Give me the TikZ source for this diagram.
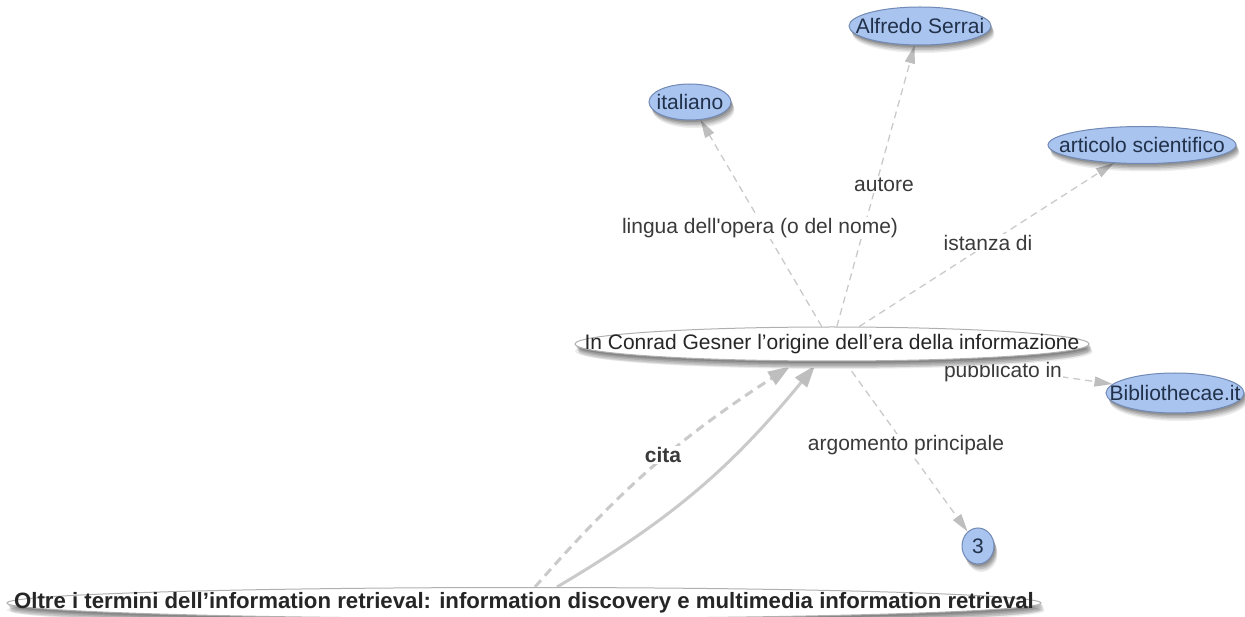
\documentclass[tikz,border=0pt]{standalone}
\usepackage{fontspec}
\setmainfont{Liberation Sans}[Ligatures=TeXOff]
\usetikzlibrary{shapes.geometric,arrows.meta,shadows,calc}
\pgfdeclarelayer{bg}
\pgfsetlayers{bg,main}
\definecolor{nodeblue}{HTML}{A8C4EF}
\definecolor{nodeborder}{HTML}{7189B4}
\definecolor{nodetext}{HTML}{22314A}
\definecolor{edgegray}{HTML}{CACACA}
\definecolor{tipgray}{HTML}{BEBEBE}
\definecolor{labeltext}{HTML}{3A3A3A}
\definecolor{whiteborder}{HTML}{B0B0B0}
\begin{document}
\begin{tikzpicture}[x=1pt,y=-1pt,
  font=\fontsize{21}{25}\selectfont,
  ell/.style 2 args={ellipse, minimum width=#1, minimum height=#2,
    inner xsep=-600pt, inner ysep=-60pt},
  softshadow/.style={
    general shadow={shadow xshift=1pt, shadow yshift=-2pt, fill=black, opacity=0.13},
    general shadow={shadow xshift=2pt, shadow yshift=-3.5pt, fill=black, opacity=0.12},
    general shadow={shadow xshift=2.5pt, shadow yshift=-5pt, fill=black, opacity=0.11},
    general shadow={shadow xshift=3pt, shadow yshift=-6.5pt, fill=black, opacity=0.09},
    general shadow={shadow xshift=3.5pt, shadow yshift=-8pt, fill=black, opacity=0.07}},
  bluenode/.style={draw=nodeborder, line width=1pt, fill=nodeblue, text=nodetext, softshadow},
  whitenode/.style={draw=whiteborder, line width=1pt, fill=white, text=black!85,
    general shadow={shadow xshift=0pt, shadow yshift=-7pt, fill=black!8},
    softshadow},
  lbl/.style={fill=white, inner sep=1pt, text=labeltext},
  thinedge/.style={draw=edgegray, line width=1.3pt, dash pattern=on 7pt off 5pt,
    -{Triangle[length=18pt,width=10pt,color=tipgray]}},
  citaedge/.style={draw=edgegray, line width=3pt,
    -{Triangle[length=22pt,width=15pt,color=tipgray]}}
]
\begin{pgfonlayer}{bg}
\fill[white] (0,0) rectangle (1245,617);
\end{pgfonlayer}
\useasboundingbox (0,0) rectangle (1245,617);

% nodes
\node[bluenode, ell={82}{36}] (italiano) at (690,102) {italiano};
\node[bluenode, ell={142}{38}] (serrai) at (920,26) {Alfredo Serrai};
\node[bluenode, ell={188}{37}] (articolo) at (1142,145) {articolo scientifico};
\node[whitenode, ell={514}{34}] (central) at (832,344) {In Conrad Gesner l’origine dell’era della informazione};
\node[bluenode, ell={138}{40}] (biblio) at (1175,393) {Bibliothecae.it};
\node[bluenode, ell={32}{36}] (three) at (978,546) {3};
\node[whitenode, ell={1034}{31}, font=\fontsize{22.2}{26}\selectfont\bfseries] (oltre) at (524,603)
  {Oltre i termini dell’information retrieval: information discovery e multimedia information retrieval};

\begin{pgfonlayer}{bg}
\draw[thinedge] (central) -- (italiano);
\draw[thinedge] (central) -- (serrai);
\draw[thinedge] (central) -- (articolo);
\draw[thinedge] (central) -- (biblio);
\draw[thinedge] (central) -- (three);
\draw[citaedge, dash pattern=on 9pt off 6pt] ($(oltre.north)+(11,0)$) to[bend left=8] ($(central.south)+(-42,5)$);
\draw[citaedge] ($(oltre.north)+(33,0)$) to[bend right=10] ($(central.south)+(-17,4)$);
\node[lbl] (llingua) at (760,228) {lingua dell'opera (o del nome)};
\node[lbl] (lautore) at (884,185) {autore};
\node[lbl] (listanza) at (988,243) {istanza di};
\node[lbl] (lpubbl) at (1003,372) {pubblicato in};
\node[lbl] (largom) at (906,445) {argomento principale};
\node[lbl, font=\fontsize{21}{25}\selectfont\bfseries] (lcita) at (663,455) {cita};
\end{pgfonlayer}
\end{tikzpicture}
\end{document}
